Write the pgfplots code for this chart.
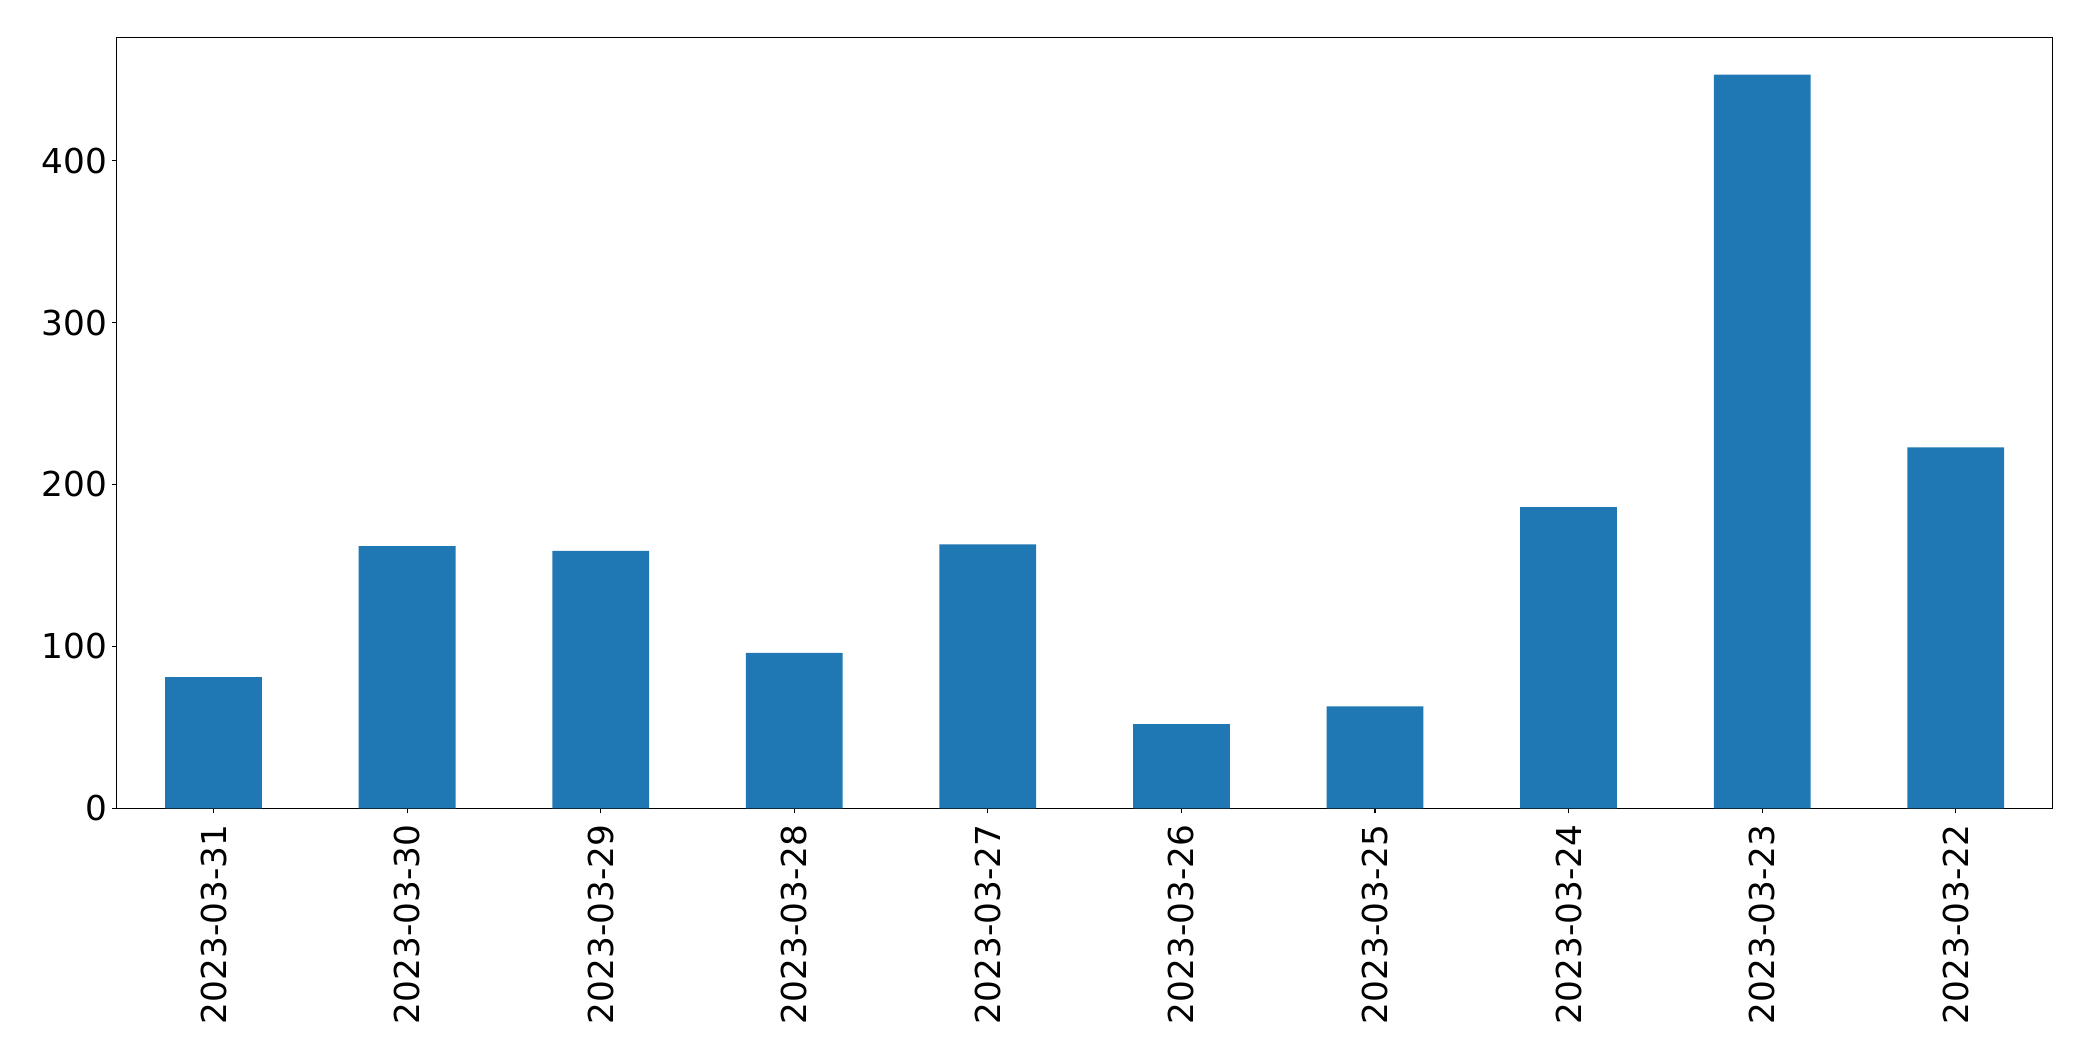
\documentclass[border={21pt 18pt 20pt 18.5pt}]{standalone}
\usepackage{pgfplots}
\pgfplotsset{compat=1.18}
\usepackage{fontspec}
\setmainfont{DejaVu Sans}
\definecolor{mplblue}{HTML}{1F77B4}
\begin{document}
\begin{tikzpicture}
\begin{axis}[
  scale only axis,
  width=970.5pt, height=386.5pt,
  xmin=-0.5, xmax=9.5,
  ymin=0, ymax=476,
  xtick={0,1,2,3,4,5,6,7,8,9},
  xticklabels={2023-03-31,2023-03-30,2023-03-29,2023-03-28,2023-03-27,2023-03-26,2023-03-25,2023-03-24,2023-03-23,2023-03-22},
  ytick={0,100,200,300,400},
  tick align=outside,
  tick pos=left,
  major tick length=2.5pt,
  every tick/.style={black, line width=0.6pt},
  axis line style={black, line width=0.6pt},
  xticklabel style={rotate=90, anchor=east, inner sep=0pt, font=\fontsize{17.2}{20}\selectfont},
  yticklabel style={inner sep=0pt, font=\fontsize{17.2}{20}\selectfont},
  xticklabel shift=5.5pt,
  yticklabel shift=2pt,
  /pgf/number format/assume math mode=true,
  ybar, bar width=0.5,
]
\addplot[fill=mplblue, draw=none] coordinates {
(0,81) (1,162) (2,159) (3,96) (4,163) (5,52) (6,63) (7,186) (8,453) (9,223)
};
\end{axis}
\end{tikzpicture}
\end{document}
